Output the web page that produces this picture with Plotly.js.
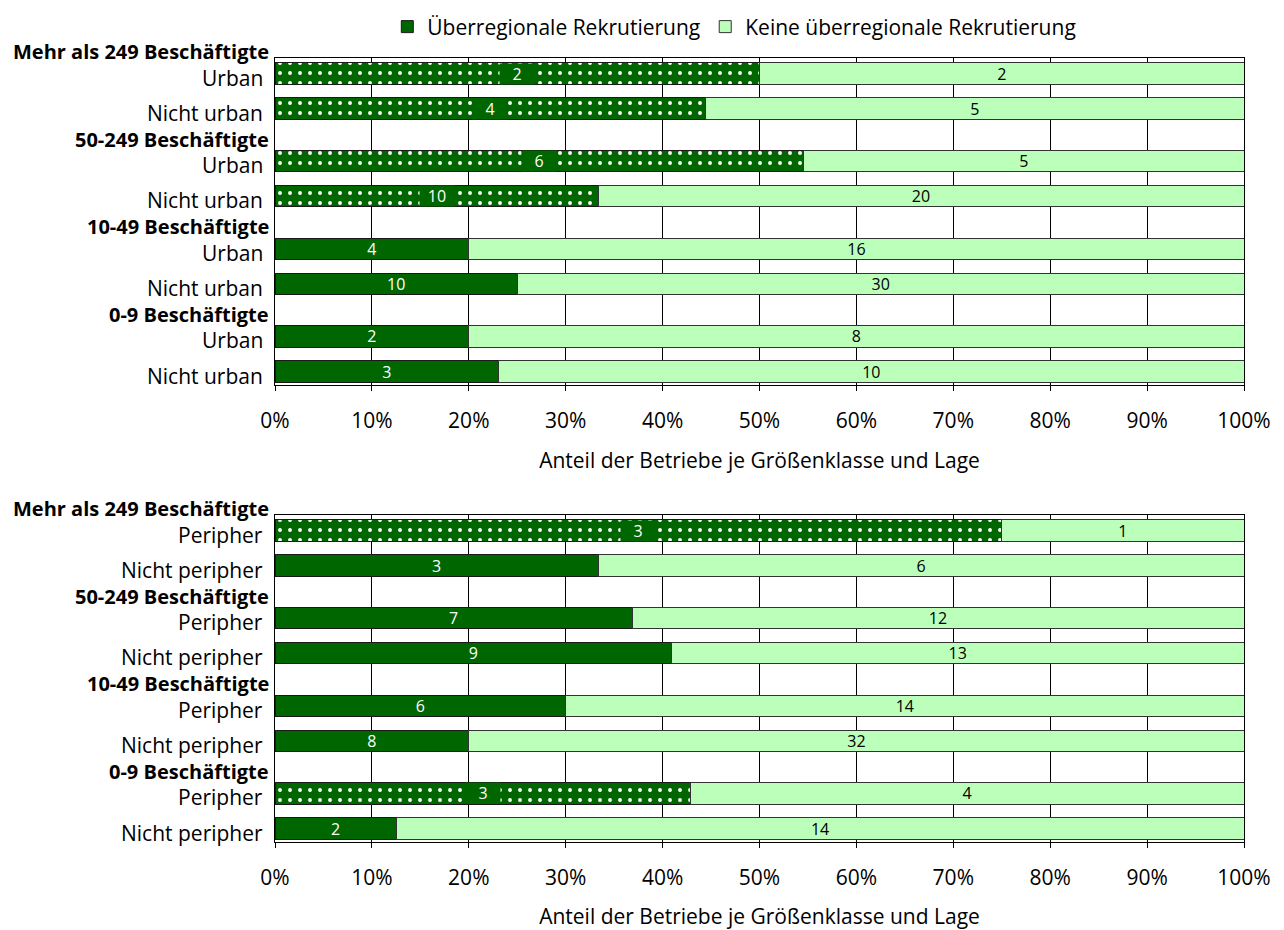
<!DOCTYPE html>
<html>
<head>
<meta charset="utf-8">
<script src="https://cdn.plot.ly/plotly-3.0.1.min.js"></script>
<style>
html,body{margin:0;padding:0;background:#fff;}
#chart{width:1284px;height:930px;}
</style>
</head>
<body>
<div id="chart"></div>
<script>
// ---------- data ----------
const seriesNames = ["Überregionale Rekrutierung", "Keine überregionale Rekrutierung"];
const groups = ["Mehr als 249 Beschäftigte", "50-249 Beschäftigte", "10-49 Beschäftigte", "0-9 Beschäftigte"];
const subsTop = ["Urban", "Nicht urban"];
const subsBottom = ["Peripher", "Nicht peripher"];
// counts per row, order: group by group, sub by sub (top to bottom)
const topOver = [2, 4, 6, 10, 4, 10, 2, 3];
const topNone = [2, 5, 5, 20, 16, 30, 8, 10];
const botOver = [3, 3, 7, 9, 6, 8, 3, 2];
const botNone = [1, 6, 12, 13, 14, 32, 4, 14];
// rows whose first segment is drawn dotted
const topDotted = [0, 1, 2, 3];
const botDotted = [0, 6];
const xTitle = "Anteil der Betriebe je Größenklasse und Lage";

// ---------- style ----------
const DARK = "#006600", LIGHT = "#BBFFBB";
const FONT = "Open Sans";
const rowPos = i => Math.floor(i / 2) * 5 + (i % 2) * 2;

const traces = [];
const annotations = [];

function build(over, none, subs, dotted, xa, ya, showLegend) {
  const n = over.length;
  const idx = [...Array(n).keys()].reverse();
  const y = idx.map(rowPos);
  const shapes = idx.map(i => dotted.includes(i) ? "." : "");
  traces.push({
    type: "bar", orientation: "h", name: seriesNames[0],
    x: idx.map(i => over[i]), y: y,
    text: idx.map(i => dotted.includes(i) ? "" : String(over[i])),
    textposition: "inside", insidetextanchor: "middle", textangle: 0, constraintext: "none",
    textfont: {color: "#fff", size: 16, family: FONT},
    width: 1.22,
    marker: {color: DARK, line: {color: "#1a1a1a", width: 1},
      pattern: {shape: shapes, bgcolor: DARK, fgcolor: "#fff", size: 10, solidity: 0.12, fillmode: "replace"}},
    xaxis: xa, yaxis: ya, showlegend: showLegend, hoverinfo: "skip"
  });
  traces.push({
    type: "bar", orientation: "h", name: seriesNames[1],
    x: idx.map(i => none[i]), y: y,
    text: idx.map(i => String(none[i])),
    textposition: "inside", insidetextanchor: "middle", textangle: 0, constraintext: "none",
    textfont: {color: "#000", size: 16, family: FONT},
    width: 1.22,
    marker: {color: LIGHT, line: {color: "#333", width: 1}},
    xaxis: xa, yaxis: ya, showlegend: showLegend, hoverinfo: "skip"
  });
  // value boxes on dotted segments
  dotted.forEach(i => {
    annotations.push({
      xref: xa, yref: ya, x: over[i] / (over[i] + none[i]) * 100 / 2, y: rowPos(i),
      text: String(over[i]), showarrow: false, bgcolor: DARK, width: 34, height: 20, borderpad: 0,
      font: {color: "#fff", size: 16, family: FONT}
    });
  });
  // category labels
  groups.forEach((g, gi) => {
    annotations.push({
      xref: "paper", yref: ya, x: 0, y: gi * 5, yshift: 22, xanchor: "right", yanchor: "middle",
      xshift: -4, text: "<b>" + g + "</b>", showarrow: false,
      font: {size: 20, family: FONT, color: "#000"}
    });
    subs.forEach((s, si) => {
      annotations.push({
        xref: "paper", yref: ya, x: 0, y: gi * 5 + si * 2, yshift: -4, xanchor: "right", yanchor: "middle",
        xshift: -10, text: s, showarrow: false,
        font: {size: 21, family: FONT, color: "#000"}
      });
    });
  });
}

build(topOver, topNone, subsTop, topDotted, "x", "y", true);
build(botOver, botNone, subsBottom, botDotted, "x2", "y2", false);

const xCommon = {
  range: [0, 100], dtick: 10, tick0: 0, ticksuffix: "%",
  showgrid: true, gridcolor: "#000", gridwidth: 1, zeroline: false,
  showline: true, linecolor: "#000", linewidth: 1, mirror: true,
  ticks: "outside", ticklen: 5, tickcolor: "#000", ticklabelstandoff: 12,
  tickfont: {size: 21, family: FONT, color: "#000"},
  title: {text: xTitle, font: {size: 21, family: FONT, color: "#000"}, standoff: 20},
  fixedrange: true
};
const yCommon = {
  range: [17.77, -0.89], showticklabels: false, showgrid: false, zeroline: false,
  showline: true, linecolor: "#000", linewidth: 1, mirror: true, ticks: "", fixedrange: true
};

const layout = {
  width: 1284, height: 930,
  margin: {l: 275, r: 40, t: 0, b: 0},
  paper_bgcolor: "#fff", plot_bgcolor: "#fff",
  barmode: "stack", barnorm: "percent",
  font: {family: FONT, color: "#000"},
  xaxis: Object.assign({}, xCommon, {anchor: "y", domain: [0, 1]}),
  yaxis: Object.assign({}, yCommon, {anchor: "x", domain: [0.586, 0.9376]}),
  xaxis2: Object.assign({}, xCommon, {anchor: "y2", domain: [0, 1]}),
  yaxis2: Object.assign({}, yCommon, {anchor: "x2", domain: [0.0946, 0.4462]}),
  legend: {orientation: "h", x: 0.474, xanchor: "center", y: 0.971, yanchor: "middle",
    font: {size: 21, family: FONT, color: "#000"}, traceorder: "normal", itemclick: false},
  annotations: annotations,
  showlegend: true
};

Plotly.newPlot("chart", traces, layout, {displayModeBar: false, staticPlot: true});
</script>
</body>
</html>
